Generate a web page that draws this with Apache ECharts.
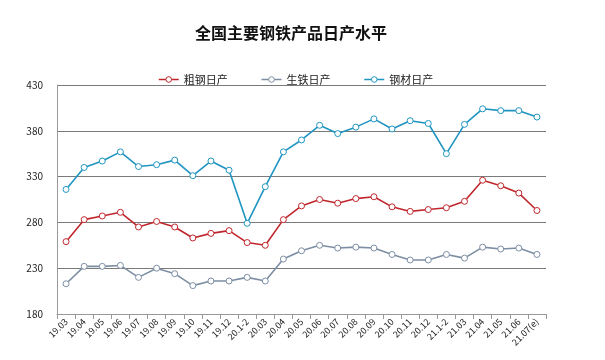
<!DOCTYPE html>
<html><head><meta charset="utf-8">
<script src="https://cdn.jsdelivr.net/npm/echarts@6/dist/echarts.min.js"></script>
<style>html,body{margin:0;padding:0;background:#fff}#c{width:605px;height:360px}</style>
</head><body><div id="c"></div>
<script>
const categories = ['19.03','19.04','19.05','19.06','19.07','19.08','19.09','19.10','19.11','19.12','20.1-2','20.03','20.04','20.05','20.06','20.07','20.08','20.09','20.10','20.11','20.12','21.1-2','21.03','21.04','21.05','21.06','21.07(e)'];
const crudeSteel = [259,283,287,291,275,281,275,263,268,271,258,255,283,298,305,301,306,308,297,292,294,296,303,326,320,312,293];
const pigIron = [213,232,232,233,220,230,224,211,216,216,220,216,240,249,255,252,253,252,245,239,239,245,241,253,251,252,245];
const steelProducts = [316,340,347,357,341,343,348,331,347,337,279,319,357,370,386,377,384,393,382,391,388,355,387,404,402,402,395];
const yTicks = {min:180, max:430, interval:50};

const chart = echarts.init(document.getElementById('c'));
const font = '"Noto Sans CJK SC", "Noto Sans", sans-serif';
const colors = {'粗钢日产':'#c0272d','生铁日产':'#7d8ea3','钢材日产':'#1f95c0'};
function mk(name, data){
  const color = colors[name];
  return {name, type:'line', data, symbol:'circle', symbolSize:6, color,
    itemStyle:{color:'#fff', borderColor:color, borderWidth:1},
    lineStyle:{color, width:1.6}, emphasis:{disabled:true}};
}
chart.setOption({
  animation:false,
  textStyle:{fontFamily:font},
  title:{text:'全国主要钢铁产品日产水平', left:286, top:20, textAlign:'center',
    textStyle:{fontSize:16, fontWeight:'bold', color:'#111', fontFamily:font}},
  legend:{top:69, left:153, itemWidth:20, itemHeight:7, itemGap:33,
    textStyle:{fontSize:11, color:'#222', fontFamily:font},
    itemStyle:{borderWidth:1},
    lineStyle:{width:1.5},
    data:['粗钢日产','生铁日产','钢材日产']},
  grid:{left:57, right:59, top:85, bottom:46},
  xAxis:{type:'category', data:categories, boundaryGap:true,
    axisLine:{lineStyle:{color:'#999'}},
    axisTick:{show:true, alignWithLabel:false, lineStyle:{color:'#999'}},
    axisLabel:{rotate:45, fontSize:9, color:'#222', interval:0, margin:6, fontFamily:font}},
  yAxis:{type:'value', min:yTicks.min, max:yTicks.max, interval:yTicks.interval,
    axisLine:{show:true, lineStyle:{color:'#999'}},
    axisTick:{show:false},
    axisLabel:{fontSize:10, color:'#222', margin:14, fontFamily:font},
    splitLine:{lineStyle:{color:'#7a7a7a', width:1}}},
  series:[mk('粗钢日产', crudeSteel), mk('生铁日产', pigIron), mk('钢材日产', steelProducts)]
});
</script></body></html>
